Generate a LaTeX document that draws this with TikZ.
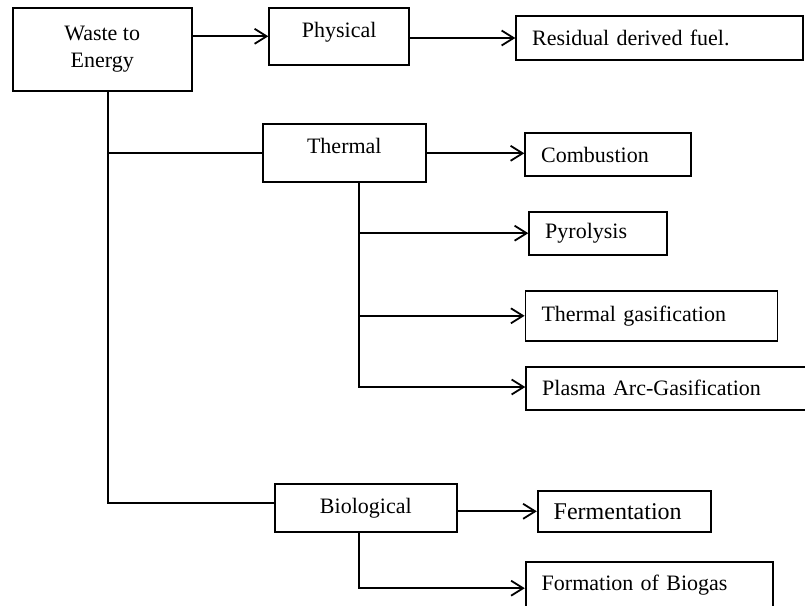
\documentclass[tikz,border=0pt]{standalone}
\usepackage{fontspec}
\setmainfont{Liberation Serif}
\usetikzlibrary{arrows.meta}

\begin{document}
\begin{tikzpicture}[x=1pt,y=-1pt,
    >={Straight Barb[length=12pt,width=15pt]},
    line width=1.8pt,
    every node/.style={font=\fontsize{22}{27}\selectfont},
    cbox/.style={draw,line width=1.8pt,inner sep=0pt,align=center},
    lbox/.style={draw,line width=1.8pt,inner ysep=0pt,inner xsep=16pt,align=left,text width=#1}]
  \useasboundingbox (0,0) rectangle (805,605);

  \node[cbox,minimum width=179pt,minimum height=83pt] (wte) at (102.2,49.2) {Waste to\\Energy};
  \node[cbox,minimum width=140pt,minimum height=57pt,text depth=13pt] (phys) at (339.2,36.3) {Physical};
  \node[lbox=255pt,minimum height=44pt] (rdf) at (659.7,38) {Residual derived fuel.};

  \node[cbox,minimum width=163pt,minimum height=58pt,text depth=14pt] (therm) at (344.3,153.3) {Thermal};
  \node[lbox=134pt,minimum height=43pt] (comb) at (608.2,154.7) {Combustion};
  \node[lbox=106pt,minimum height=43pt] (pyro) at (598.2,233.2) {Pyrolysis};
  \node[lbox=220pt,minimum height=50pt] (tgas) at (651.5,315.8) {Thermal gasification};
  \node[lbox=248pt,minimum height=43pt] (plasma) at (666.2,388.3) {Plasma Arc-Gasification};

  \node[cbox,minimum width=182pt,minimum height=48pt] (bio) at (365.8,507.8) {Biological};
  \node[lbox=141pt,minimum height=41pt,font=\fontsize{24}{28}\selectfont] (ferm) at (624.2,511.3) {Fermentation};
  \node[lbox=215pt,minimum height=46pt] (biogas) at (649.2,585.2) {Formation of Biogas};

  \coordinate (trunk) at (108.3,0);
  \coordinate (tsplit) at (359,182.3);
  \coordinate (bsplit) at (358.7,531.7);

  \draw[->] (wte.east |- phys.west) -- (phys.west);
  \draw[->] (phys.east |- rdf.west) -- (rdf.west);

  \draw (trunk |- wte.south) |- ([yshift=4.5pt]bio.west);
  \draw (trunk |- therm.west) -- (therm.west);

  \draw[->] (therm.east) -- (therm.east -| comb.west);
  \draw[->] (tsplit) |- ([yshift=1.3pt]plasma.west);
  \draw[->] (tsplit |- pyro.west) -- (pyro.west);
  \draw[->] (tsplit |- tgas.west) -- (tgas.west);

  \draw[->] (bio.east |- ferm.west) -- (ferm.west);
  \draw[->] (bsplit) |- ([yshift=-3pt]biogas.west);
\end{tikzpicture}
\end{document}
